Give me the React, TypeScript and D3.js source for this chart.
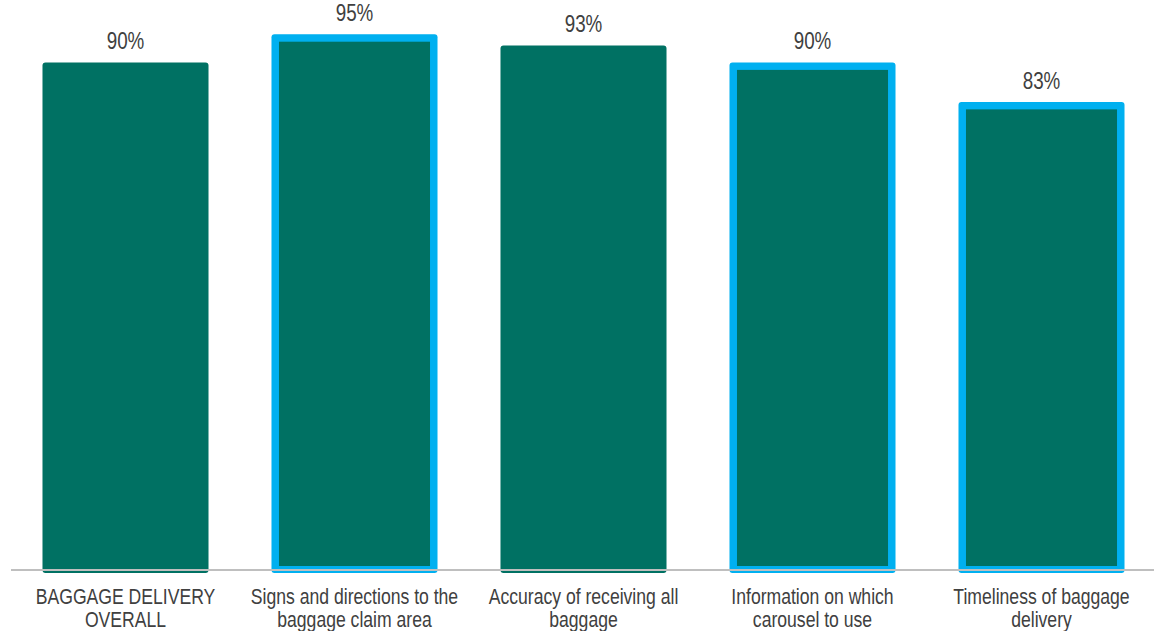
import React from "react";
import * as d3 from "d3";

const categories: string[][] = [
  ["BAGGAGE DELIVERY", "OVERALL"],
  ["Signs and directions to the", "baggage claim area"],
  ["Accuracy of receiving all", "baggage"],
  ["Information on which", "carousel to use"],
  ["Timeliness of baggage", "delivery"],
];
const values: number[] = [90, 95, 93, 90, 83];
const highlighted: boolean[] = [false, true, false, true, true];

const W = 1154;
const H = 631;
const baseline = 570;
const top = 6;
const left = 11;
const right = 1156;
const TEAL = "#007163";
const CYAN = "#00B0F0";
const TEXT = "#404040";

export default function App() {
  const x = d3
    .scaleBand<number>()
    .domain(d3.range(values.length))
    .range([left, right])
    .paddingInner(0.275)
    .paddingOuter(0.1375);
  const y = d3.scaleLinear().domain([0, 100]).range([baseline, top]);
  const bw = x.bandwidth();
  const b = 7.5;

  return (
    <div style={{ position: "absolute", left: 0, top: 0 }}>
      <svg width={W} height={H} style={{ display: "block" }}>
        <rect width={W} height={H} fill="#fff" />
        {values.map((v, i) => {
          const x0 = x(i)!;
          const y0 = y(v);
          const h = baseline - y0;
          const cx = x0 + bw / 2;
          return (
            <g key={i}>
              {highlighted[i] ? (
                <>
                  <rect x={x0} y={y0} width={bw} height={h + 3} rx={3} fill={CYAN} />
                  <rect x={x0 + b} y={y0 + b} width={bw - 2 * b} height={h - b - 4} fill={TEAL} />
                </>
              ) : (
                <rect x={x0} y={y0} width={bw} height={h + 3} rx={3} fill={TEAL} />
              )}
              <text
                transform={`translate(${cx},${y0 - 13}) scale(0.8,1)`}
                textAnchor="middle"
                fontFamily="'Liberation Sans', Arial, sans-serif"
                fontSize={23.5}
                fill={TEXT}
              >
                {`${v}%`}
              </text>
              {categories[i].map((line, j) => (
                <text
                  key={j}
                  transform={`translate(${cx},${603.5 + j * 23}) scale(0.8,1)`}
                  textAnchor="middle"
                  fontFamily="'Liberation Sans', Arial, sans-serif"
                  fontSize={22}
                  fill={TEXT}
                >
                  {line}
                </text>
              ))}
            </g>
          );
        })}
        <line x1={left} x2={W} y1={baseline} y2={baseline} stroke="#BFBFBF" strokeWidth={2} />
      </svg>
    </div>
  );
}
